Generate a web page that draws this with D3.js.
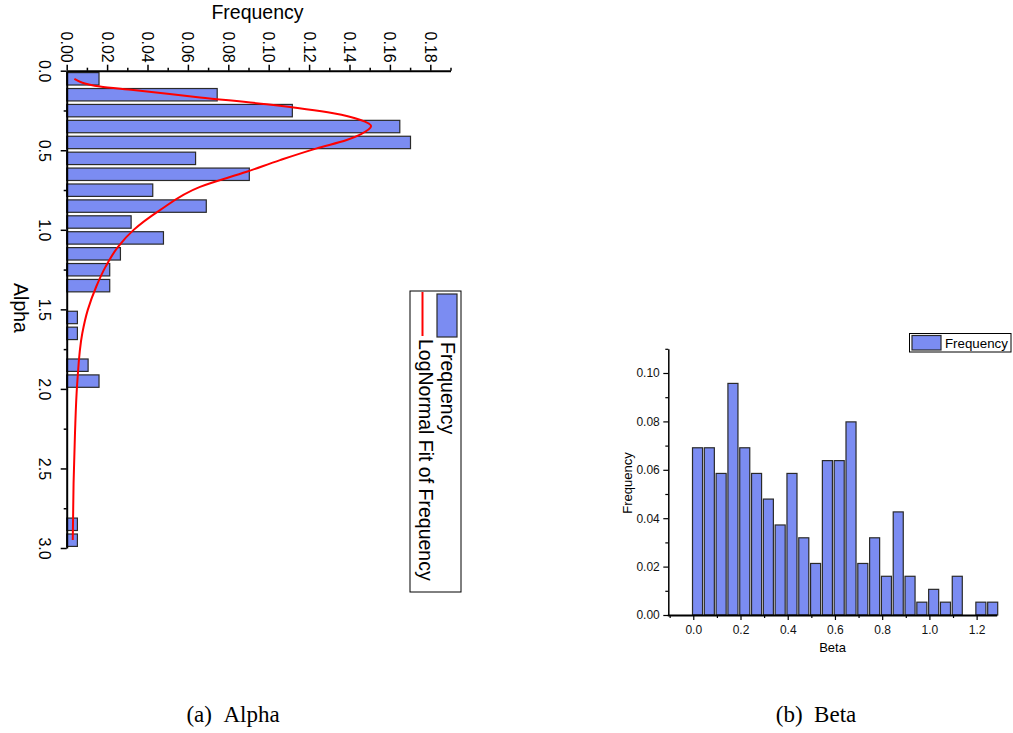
<!DOCTYPE html>
<html>
<head lang="en">
	<meta charset="UTF-8">
	<title>Alpha / Beta histograms</title>
	<script src="https://cdnjs.cloudflare.com/ajax/libs/d3/7.8.5/d3.min.js"></script>
	<style type="text/css">
		body { margin: 0; background: #fff; }
		svg { display: block; font-family: "Liberation Sans", Arial, sans-serif; }
		.axis path, .axis line { stroke: #000; }
		.caption { font-family: "Liberation Serif", "Times New Roman", serif; font-size: 23px; }
	</style>
</head>
<body>
<svg id="fig" width="1013" height="733" version="1.1" xmlns="http://www.w3.org/2000/svg"></svg>
<script type="text/javascript">
	// (a) Alpha histogram - bins are 0.1 wide, only the non-empty ones
	var alphaBinStart = [0.0, 0.1, 0.2, 0.3, 0.4, 0.5, 0.6, 0.7, 0.8, 0.9, 1.0, 1.1, 1.2, 1.3, 1.5, 1.6, 1.8, 1.9, 2.8, 2.9];
	var alphaFreq = [0.016, 0.0745, 0.1117, 0.1649, 0.1702, 0.0638, 0.0904, 0.0426, 0.0691, 0.0319, 0.0479, 0.0266, 0.0213, 0.0213, 0.0053, 0.0053, 0.0106, 0.016, 0.0053, 0.0053];
	// lognormal fit
	var fitAlpha = [0.052, 0.10, 0.121, 0.168, 0.211, 0.268, 0.310, 0.348, 0.400, 0.436, 0.488, 0.562, 0.635, 0.730, 0.876, 1.002, 1.107, 1.233, 1.358, 1.505, 1.652, 1.966, 2.28, 2.595, 2.95];
	var fitFreq = [0.0038, 0.0165, 0.033, 0.066, 0.099, 0.132, 0.1455, 0.1507, 0.1455, 0.1386, 0.1238, 0.1056, 0.0891, 0.066, 0.0462, 0.033, 0.0254, 0.0192, 0.0146, 0.0104, 0.0077, 0.0052, 0.0041, 0.0034, 0.003];
	var alphaTicks = [0.0, 0.5, 1.0, 1.5, 2.0, 2.5, 3.0];
	var alphaMinor = [0.25, 0.75, 1.25, 1.75, 2.25, 2.75];
	var freqTicksA = [0.00, 0.02, 0.04, 0.06, 0.08, 0.10, 0.12, 0.14, 0.16, 0.18];
	var freqMinorA = [0.01, 0.03, 0.05, 0.07, 0.09, 0.11, 0.13, 0.15, 0.17, 0.19];

	// (b) Beta histogram
	var betaBinCenter = [0.018, 0.068, 0.118, 0.168, 0.218, 0.268, 0.318, 0.368, 0.418, 0.468, 0.518, 0.568, 0.618, 0.668, 0.718, 0.768, 0.818, 0.868, 0.918, 0.968, 1.018, 1.068, 1.118, 1.168, 1.218, 1.268];
	var betaFreq = [0.0691, 0.0691, 0.0585, 0.0957, 0.0691, 0.0585, 0.0479, 0.0372, 0.0585, 0.0319, 0.0213, 0.0638, 0.0638, 0.0798, 0.0213, 0.0319, 0.016, 0.0426, 0.016, 0.0053, 0.0106, 0.0053, 0.016, 0, 0.0053, 0.0053];
	var betaTicks = [0.0, 0.2, 0.4, 0.6, 0.8, 1.0, 1.2];
	var betaMinor = [-0.1, 0.1, 0.3, 0.5, 0.7, 0.9, 1.1];
	var freqTicksB = [0.00, 0.02, 0.04, 0.06, 0.08, 0.10];
	var freqMinorB = [0.01, 0.03, 0.05, 0.07, 0.09, 0.11];

	var barFill = '#7b8cf2', barStroke = '#2a2a2a';
	var svg = d3.select('#fig');
	svg.append('rect').attr('width', 1013).attr('height', 733).attr('fill', '#fff');

	// ---------- (a) Alpha, drawn on its side ----------
	var fx = d3.scaleLinear().domain([0, 0.19]).range([66.7, 450.5]);
	var ay = d3.scaleLinear().domain([0, 3]).range([70.7, 548]);
	var binA = 0.1;

	var ga = svg.append('g');
	ga.selectAll('rect.bar').data(alphaBinStart).enter().append('rect')
		.attr('class', 'bar')
		.attr('x', fx(0))
		.attr('y', function (d) { return ay(d + binA * 0.12); })
		.attr('width', function (d, i) { return fx(alphaFreq[i]) - fx(0); })
		.attr('height', ay(binA * 0.78) - ay(0))
		.attr('fill', barFill).attr('stroke', barStroke).attr('stroke-width', 1.2);

	var fitPts = fitAlpha.map(function (a, i) { return { a: a, f: fitFreq[i] }; });
	ga.append('path').datum(fitPts)
		.attr('d', d3.line()
			.x(function (d) { return fx(d.f); })
			.y(function (d) { return ay(d.a); })
			.curve(d3.curveMonotoneY))
		.attr('fill', 'none').attr('stroke', '#ff0000').attr('stroke-width', 2);

	var topAx = ga.append('g').attr('class', 'axis').attr('transform', 'translate(0,70.7)')
		.call(d3.axisTop(fx).tickValues(freqTicksA).tickSize(6).tickSizeOuter(0).tickFormat(d3.format('.2f')));
	topAx.select('.domain').attr('stroke-width', 2);
	topAx.selectAll('.tick line').attr('stroke-width', 1.5);
	topAx.selectAll('text')
		.attr('x', 0).attr('y', 0).attr('dy', 0)
		.attr('transform', 'translate(-6,-8) rotate(90)')
		.attr('text-anchor', 'end')
		.attr('font-size', 16).attr('fill', '#000');
	ga.append('g').attr('class', 'axis').attr('transform', 'translate(0,70.7)')
		.call(d3.axisTop(fx).tickValues(freqMinorA).tickSize(3).tickSizeOuter(0).tickFormat(''))
		.call(function (g) { g.select('.domain').remove(); g.selectAll('line').attr('stroke-width', 1.5); });

	var leftAx = ga.append('g').attr('class', 'axis').attr('transform', 'translate(66.7,0)')
		.call(d3.axisLeft(ay).tickValues(alphaTicks).tickSize(6).tickSizeOuter(0).tickFormat(d3.format('.1f')));
	leftAx.select('.domain').attr('stroke-width', 2);
	leftAx.selectAll('.tick line').attr('stroke-width', 1.5);
	leftAx.selectAll('text')
		.attr('x', 0).attr('y', 0).attr('dy', 0)
		.attr('transform', 'translate(-28,0) rotate(90)')
		.attr('text-anchor', 'middle')
		.attr('font-size', 16).attr('fill', '#000');
	ga.append('g').attr('class', 'axis').attr('transform', 'translate(66.7,0)')
		.call(d3.axisLeft(ay).tickValues(alphaMinor).tickSize(3).tickSizeOuter(0).tickFormat(''))
		.call(function (g) { g.select('.domain').remove(); g.selectAll('line').attr('stroke-width', 1.5); });

	ga.append('text').attr('x', 257.5).attr('y', 18.6).attr('text-anchor', 'middle')
		.attr('font-size', 19.5).text('Frequency');
	ga.append('text').attr('transform', 'translate(13.5,308) rotate(90)').attr('text-anchor', 'middle')
		.attr('font-size', 19.5).text('Alpha');

	// legend (rotated)
	var lga = ga.append('g');
	lga.append('rect').attr('x', 410).attr('y', 291).attr('width', 51).attr('height', 301)
		.attr('fill', '#fff').attr('stroke', '#000').attr('stroke-width', 1);
	lga.append('rect').attr('x', 437).attr('y', 294).attr('width', 20).attr('height', 43)
		.attr('fill', barFill).attr('stroke', barStroke).attr('stroke-width', 1.2);
	lga.append('line').attr('x1', 422.5).attr('x2', 422.5).attr('y1', 292).attr('y2', 336)
		.attr('stroke', '#ff0000').attr('stroke-width', 2);
	lga.append('text').attr('transform', 'translate(441,342) rotate(90)')
		.attr('font-size', 19.5).text('Frequency');
	lga.append('text').attr('transform', 'translate(419,339) rotate(90)')
		.attr('font-size', 19.5).text('LogNormal Fit of Frequency');

	// ---------- (b) Beta ----------
	var bx = d3.scaleLinear().domain([-0.11, 1.285]).range([667.3, 996.7]);
	var by = d3.scaleLinear().domain([0, 0.11]).range([615, 348.8]);
	var barW = 0.0425;

	var gb = svg.append('g');
	gb.selectAll('rect.bar').data(betaBinCenter.filter(function (d, i) { return betaFreq[i] > 0; })).enter().append('rect')
		.attr('class', 'bar')
		.attr('x', function (d) { return bx(d - barW / 2); })
		.attr('y', function (d) { return by(betaFreq[betaBinCenter.indexOf(d)]); })
		.attr('width', bx(barW) - bx(0))
		.attr('height', function (d) { return by(0) - by(betaFreq[betaBinCenter.indexOf(d)]); })
		.attr('fill', barFill).attr('stroke', barStroke).attr('stroke-width', 1.2);

	var bAx = gb.append('g').attr('class', 'axis').attr('transform', 'translate(0,615)')
		.call(d3.axisBottom(bx).tickValues(betaTicks).tickSize(5).tickSizeOuter(0).tickFormat(d3.format('.1f')));
	bAx.select('.domain').attr('stroke-width', 2);
	bAx.selectAll('.tick line').attr('stroke-width', 1.2);
	bAx.selectAll('text').attr('y', 10).attr('font-size', 12).attr('fill', '#111');
	gb.append('g').attr('class', 'axis').attr('transform', 'translate(0,615)')
		.call(d3.axisBottom(bx).tickValues(betaMinor).tickSize(3).tickSizeOuter(0).tickFormat(''))
		.call(function (g) { g.select('.domain').remove(); g.selectAll('line').attr('stroke-width', 1.2); });

	var lAx = gb.append('g').attr('class', 'axis').attr('transform', 'translate(668.3,0)')
		.call(d3.axisLeft(by).tickValues(freqTicksB).tickSize(5).tickSizeOuter(0).tickFormat(d3.format('.2f')));
	lAx.select('.domain').attr('stroke-width', 1.5);
	lAx.selectAll('.tick line').attr('stroke-width', 1.2);
	lAx.selectAll('text').attr('x', -8.5).attr('font-size', 12).attr('fill', '#111');
	gb.append('g').attr('class', 'axis').attr('transform', 'translate(668.3,0)')
		.call(d3.axisLeft(by).tickValues(freqMinorB).tickSize(3).tickSizeOuter(0).tickFormat(''))
		.call(function (g) { g.select('.domain').remove(); g.selectAll('line').attr('stroke-width', 1.2); });

	gb.append('text').attr('x', 832.5).attr('y', 651.5).attr('text-anchor', 'middle')
		.attr('font-size', 13).text('Beta');
	gb.append('text').attr('transform', 'translate(631.5,483) rotate(-90)').attr('text-anchor', 'middle')
		.attr('font-size', 13).text('Frequency');

	var lgb = gb.append('g');
	lgb.append('rect').attr('x', 909.5).attr('y', 333.5).attr('width', 101.5).attr('height', 18.5)
		.attr('fill', '#fff').attr('stroke', '#000').attr('stroke-width', 1);
	lgb.append('rect').attr('x', 912).attr('y', 335.5).attr('width', 29).attr('height', 14.5)
		.attr('fill', barFill).attr('stroke', barStroke).attr('stroke-width', 1.2);
	lgb.append('text').attr('x', 945).attr('y', 347.5).attr('font-size', 13.3).text('Frequency');

	// captions
	svg.append('text').attr('class', 'caption').attr('x', 233).attr('y', 722).attr('text-anchor', 'middle')
		.text('(a)\u2002Alpha');
	svg.append('text').attr('class', 'caption').attr('x', 816).attr('y', 722).attr('text-anchor', 'middle')
		.text('(b)\u2002Beta');
</script>
</body>
</html>
